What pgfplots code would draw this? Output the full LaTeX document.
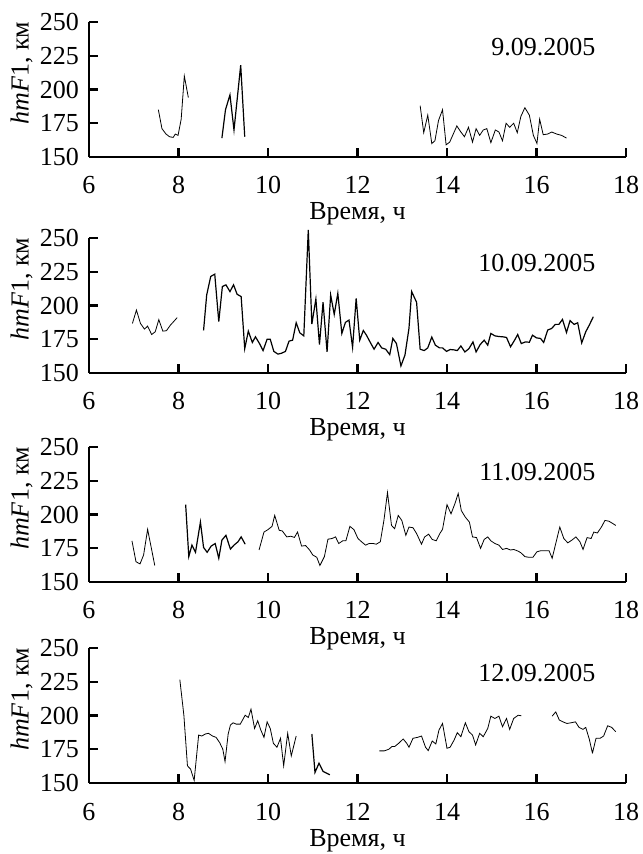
\documentclass[border=0pt]{standalone}
\usepackage{fontspec}
\setmainfont{Liberation Serif}
\usepackage{pgfplots}
\pgfplotsset{compat=1.18}
\pgfplotsset{
  panel/.style={
    scale only axis, width=268.5pt, height=67.5pt,
    xmin=6, xmax=18, ymin=150, ymax=250,
    xtick={6,8,...,18}, ytick={150,175,...,250},
    axis lines=left, axis line style={-, line width=1.2pt},
    tick style={line width=1.2pt, black}, major tick length=4.5pt, tick align=inside,
    xtick pos=left, ytick pos=left,
    clip=false,
    font=\fontsize{13pt}{15pt}\selectfont,
    /pgf/number format/assume math mode=true,
    xticklabel style={anchor=base, yshift=-18.5pt},
    yticklabel style={xshift=-1.5pt},
    xlabel={Время, ч},
    ylabel={\textit{hmF}1, км},
    xlabel style={at={(axis description cs:0.5,0)}, anchor=base, yshift=-31.5pt},
    ylabel style={at={(axis description cs:-0.1255,0.62)}, anchor=center},
    cycle list={{black, line width=0.6pt, mark=none, line join=round}},
  }
}
\begin{document}
\begin{tikzpicture}
\useasboundingbox (0,0) rectangle (321pt,427pt);
% Panel 1
\begin{axis}[panel, at={(44.5pt,348.5pt)}, anchor=south west]
\addplot coordinates {(7.55,185) (7.63,171) (7.72,167) (7.80,165) (7.88,164.5) (7.93,167) (7.99,166) (8.06,178) (8.13,210) (8.22,194)};
\addplot coordinates {(8.97,164) (9.05,185) (9.15,196) (9.24,170) (9.39,218) (9.48,165)};
\addplot coordinates {(13.40,188) (13.48,168) (13.57,181) (13.66,160) (13.73,162) (13.81,177) (13.90,185) (13.98,159) (14.06,161) (14.14,167) (14.22,173) (14.31,168.5) (14.39,165) (14.48,172) (14.57,161) (14.65,171) (14.73,166) (14.81,170) (14.89,171) (14.98,160.6) (15.08,170) (15.16,168.5) (15.24,162) (15.32,175) (15.40,172) (15.49,175) (15.57,168) (15.65,180) (15.74,186.5) (15.84,181) (15.93,166) (16.01,160) (16.07,178) (16.15,166.5) (16.25,167) (16.34,168.5) (16.45,167) (16.56,166) (16.67,164)};
\node[anchor=east] at (rel axis cs:0.956,0.815) {9.09.2005};
\end{axis}
% Panel 2
\begin{axis}[panel, at={(44.5pt,240.5pt)}, anchor=south west]
\addplot coordinates {(6.97,186.7) (7.06,196.6) (7.15,186.7) (7.24,182.5) (7.31,184.7) (7.40,178.5) (7.48,180.5) (7.56,189.5) (7.65,181) (7.73,181.3) (7.82,185.5) (7.89,188) (7.97,191)};
\addplot coordinates {(8.56,181.5) (8.63,207.8) (8.72,221.5) (8.81,223.2) (8.90,188) (8.98,214) (9.06,215.3) (9.15,210.3) (9.23,215.3) (9.31,208.3) (9.40,206.6) (9.48,168) (9.56,181) (9.65,172.6) (9.72,176.8) (9.81,171.8) (9.89,166.6) (9.98,175) (10.05,175) (10.13,166) (10.22,164) (10.30,164.6) (10.39,166) (10.47,173.6) (10.55,174.3) (10.63,187.2) (10.71,179.8) (10.80,177.5) (10.90,256) (10.98,186.2) (11.07,204.8) (11.15,171) (11.23,202.4) (11.32,165.6) (11.40,207.8) (11.48,193.4) (11.56,209) (11.65,179.3) (11.73,187.5) (11.81,189.2) (11.89,169) (11.97,205.3) (12.05,174.3) (12.13,181.5) (12.20,178) (12.28,173) (12.37,167.6) (12.46,172.6) (12.54,168.6) (12.63,167.6) (12.72,163.6) (12.79,175.6) (12.87,171.8) (12.97,155.2) (13.06,163.2) (13.15,183) (13.21,210.3) (13.32,202.4) (13.40,167.6) (13.49,166.6) (13.57,168.6) (13.66,176.6) (13.74,170.6) (13.83,168.6) (13.90,168.6) (13.99,166) (14.07,167.4) (14.16,167.1) (14.23,166.6) (14.31,170) (14.40,165.6) (14.49,168) (14.58,173) (14.65,165.6) (14.74,171) (14.83,174.3) (14.91,170.6) (14.98,179.3) (15.07,177.5) (15.16,177) (15.25,176.8) (15.33,176.3) (15.42,169.4) (15.51,174.3) (15.58,178.5) (15.66,171.8) (15.75,173) (15.84,172.8) (15.91,178) (16.00,176) (16.09,175.6) (16.16,172.6) (16.25,181.8) (16.34,183) (16.42,186) (16.50,186) (16.58,189.7) (16.67,180) (16.75,188.8) (16.84,186) (16.92,187.2) (17.01,172.3) (17.10,180.5) (17.18,185.5) (17.27,191.7)};
\node[anchor=east] at (rel axis cs:0.956,0.815) {10.09.2005};
\end{axis}
% Panel 3
\begin{axis}[panel, at={(44.5pt,136pt)}, anchor=south west]
\addplot coordinates {(6.96,180.5) (7.05,165) (7.14,163.4) (7.22,170) (7.31,189) (7.47,162.2)};
\addplot coordinates {(8.16,207.3) (8.23,168.8) (8.30,177.3) (8.38,172) (8.49,194.4) (8.56,175.6) (8.64,172) (8.73,176.6) (8.82,178.5) (8.90,167.6) (8.97,181) (9.06,184.6) (9.16,174.4) (9.24,177.3) (9.33,179.8) (9.40,183.4) (9.49,178)};
\addplot coordinates {(9.80,173.7) (9.91,187) (10.00,188.8) (10.09,191.2) (10.15,199.3) (10.25,188.3) (10.32,187.8) (10.42,183.4) (10.51,183.9) (10.59,183) (10.66,187) (10.75,176.6) (10.84,177) (10.93,173.7) (11.00,170) (11.09,168.3) (11.16,162.2) (11.26,168.8) (11.34,181.7) (11.43,182.2) (11.51,183.4) (11.58,178.5) (11.67,180.5) (11.74,180.5) (11.83,191.2) (11.92,188.8) (12.01,182.2) (12.09,179.8) (12.18,177.3) (12.26,178.5) (12.35,178.5) (12.42,178) (12.51,179.8) (12.59,195.6) (12.67,216.3) (12.76,191.9) (12.83,189.5) (12.91,199.3) (12.99,195.6) (13.08,184.6) (13.15,190.7) (13.24,190.2) (13.32,185.9) (13.43,178) (13.50,183.4) (13.59,185.4) (13.67,181.5) (13.76,180.5) (13.84,185.9) (13.90,189) (14.00,207.3) (14.09,200.5) (14.18,208.3) (14.25,215.6) (14.32,202.9) (14.41,198) (14.50,194.4) (14.57,183.4) (14.66,182.9) (14.75,174.9) (14.83,181.5) (14.91,183.4) (14.98,180.5) (15.07,178.5) (15.16,177.3) (15.24,174.1) (15.33,174.9) (15.42,173.7) (15.49,174.1) (15.58,173) (15.65,171.7) (15.74,168.8) (15.83,168.3) (15.92,168.3) (16.01,172.4) (16.10,173.2) (16.20,173.2) (16.28,173.2) (16.35,167.6) (16.43,178.5) (16.52,190.7) (16.61,182.2) (16.70,179) (16.79,181) (16.88,183.4) (16.97,179.8) (17.04,174.1) (17.13,182.9) (17.22,182.2) (17.28,187) (17.36,186.3) (17.45,190.7) (17.53,195.6) (17.62,195) (17.71,193.2) (17.77,191.9)};
\node[anchor=east] at (rel axis cs:0.956,0.815) {11.09.2005};
\end{axis}
% Panel 4
\begin{axis}[panel, at={(44.5pt,35.5pt)}, anchor=south west]
\addplot coordinates {(8.03,226.5) (8.12,200.2) (8.20,162.7) (8.27,160.3) (8.35,151.9) (8.45,185.5) (8.52,184.8) (8.60,186.3) (8.67,186.8) (8.76,184.8) (8.84,183.8) (8.92,179.9) (8.99,175) (9.04,165.9) (9.11,186.3) (9.16,192.9) (9.22,194.6) (9.29,193.6) (9.38,193.6) (9.45,197.8) (9.49,200.2) (9.56,198.5) (9.62,204.7) (9.70,190.4) (9.77,196.1) (9.84,189.2) (9.91,183.8) (9.98,195.3) (10.05,190.4) (10.12,179.4) (10.20,176.5) (10.28,183.1) (10.35,162.7) (10.44,186.8) (10.52,170.1) (10.63,184.8)};
\addplot coordinates {(10.98,186.3) (11.05,157.8) (11.14,164.7) (11.23,158.6) (11.38,156.1)};
\addplot coordinates {(12.49,173.8) (12.60,173.8) (12.70,175) (12.77,177) (12.83,177) (12.92,179.4) (13.02,182.6) (13.10,179.4) (13.15,176.5) (13.24,183.1) (13.34,183.8) (13.43,184.8) (13.52,176.5) (13.58,174) (13.67,181.1) (13.75,178.9) (13.82,189.2) (13.90,194.1) (14.00,175.7) (14.07,176.5) (14.16,181.9) (14.23,187.3) (14.31,184.3) (14.41,194.6) (14.49,188) (14.57,185.5) (14.64,178.2) (14.73,186.8) (14.81,184.3) (14.91,190.4) (14.98,199.5) (15.07,197.8) (15.16,199.5) (15.24,191.7) (15.33,197.8) (15.40,189.7) (15.49,197.8) (15.59,200.2) (15.66,199.8)};
\addplot coordinates {(16.35,199.5) (16.43,202.7) (16.51,196.6) (16.59,195.3) (16.68,194.1) (16.77,194.6) (16.87,195.3) (16.95,191.2) (17.04,189.7) (17.10,191.2) (17.18,182.4) (17.25,172.1) (17.33,183.1) (17.42,183.1) (17.50,184.8) (17.59,192.4) (17.68,191.2) (17.77,188)};
\node[anchor=east] at (rel axis cs:0.956,0.815) {12.09.2005};
\end{axis}
\end{tikzpicture}
\end{document}
